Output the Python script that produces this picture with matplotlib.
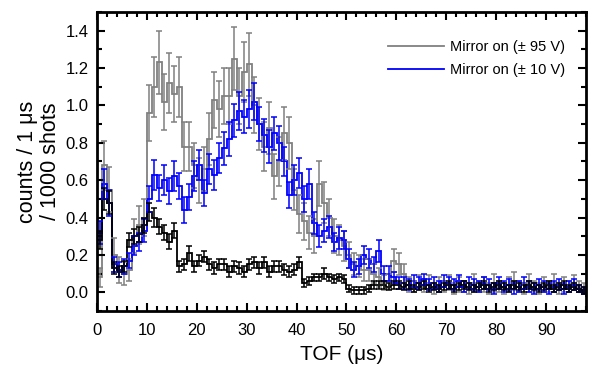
import numpy as np
import matplotlib
matplotlib.use("Agg")
import matplotlib.pyplot as plt
from matplotlib.ticker import MultipleLocator
from matplotlib.lines import Line2D

plt.rcParams['font.family'] = ['Liberation Sans', 'DejaVu Sans']

# Bin width 1 us, bins start at 0
gray_vals = [
    0.08, 0.68, 0.55, 0.20, 0.12, 0.10, 0.12, 0.30, 0.36, 0.40,
    0.96, 1.10, 1.23, 1.02, 1.12, 1.06, 1.10, 0.78, 0.78, 0.68,
    0.60, 0.66, 0.82, 1.03, 0.98, 1.05, 1.05, 1.25, 1.05, 1.18,
    1.22, 1.00, 0.90, 0.78, 0.88, 0.62, 0.70, 0.85, 0.80, 0.55,
    0.42, 0.38, 0.32, 0.30, 0.58, 0.48, 0.40, 0.30, 0.28, 0.25,
    0.20, 0.15, 0.14, 0.12, 0.12, 0.10, 0.08, 0.05, 0.06, 0.17,
    0.15, 0.10, 0.04, 0.03, 0.05, 0.03, 0.05, 0.02, 0.04, 0.03,
    0.05, 0.02, 0.04, 0.03, 0.02, 0.05, 0.03, 0.04, 0.02, 0.05,
    0.03, 0.02, 0.04, 0.06, 0.03, 0.02, 0.05, 0.03, 0.02, 0.04,
    0.03, 0.05, 0.02, 0.04, 0.03, 0.05, 0.03, 0.02, 0.02]
gray_err = [
    0.05, 0.13, 0.12, 0.09, 0.07, 0.06, 0.06, 0.09, 0.10, 0.10,
    0.15, 0.16, 0.17, 0.15, 0.16, 0.15, 0.16, 0.13, 0.13, 0.12,
    0.12, 0.12, 0.14, 0.15, 0.15, 0.15, 0.15, 0.17, 0.15, 0.16,
    0.17, 0.15, 0.14, 0.13, 0.14, 0.12, 0.13, 0.14, 0.14, 0.11,
    0.10, 0.10, 0.09, 0.09, 0.12, 0.11, 0.10, 0.09, 0.08, 0.08,
    0.07, 0.06, 0.06, 0.06, 0.06, 0.05, 0.05, 0.04, 0.04, 0.06,
    0.06, 0.05, 0.04, 0.03, 0.04, 0.03, 0.04, 0.03, 0.04, 0.03,
    0.04, 0.03, 0.04, 0.03, 0.03, 0.05, 0.03, 0.04, 0.03, 0.05,
    0.03, 0.03, 0.04, 0.05, 0.03, 0.03, 0.05, 0.03, 0.03, 0.04,
    0.03, 0.05, 0.03, 0.04, 0.03, 0.04, 0.03, 0.03, 0.03]

blue_vals = [
    0.32, 0.58, 0.48, 0.15, 0.12, 0.14, 0.17, 0.25, 0.27, 0.33,
    0.50, 0.63, 0.56, 0.60, 0.54, 0.62, 0.57, 0.44, 0.51, 0.62,
    0.68, 0.53, 0.66, 0.63, 0.72, 0.77, 0.82, 0.92, 0.97, 0.94,
    0.98, 1.02, 0.90, 0.84, 0.78, 0.85, 0.80, 0.70, 0.52, 0.60,
    0.64, 0.50, 0.58, 0.37, 0.30, 0.33, 0.35, 0.27, 0.29, 0.28,
    0.18, 0.12, 0.14, 0.20, 0.18, 0.15, 0.22, 0.10, 0.10, 0.08,
    0.05, 0.05, 0.04, 0.06, 0.05, 0.07, 0.04, 0.05, 0.03, 0.06,
    0.05, 0.04, 0.06, 0.03, 0.05, 0.04, 0.03, 0.05, 0.04, 0.02,
    0.05, 0.03, 0.04, 0.02, 0.03, 0.05, 0.03, 0.02, 0.04, 0.03,
    0.02, 0.03, 0.04, 0.02, 0.03, 0.04, 0.02, 0.01, 0.01]
blue_err = [
    0.06, 0.08, 0.07, 0.04, 0.04, 0.04, 0.04, 0.05, 0.05, 0.06,
    0.07, 0.08, 0.07, 0.08, 0.07, 0.08, 0.07, 0.07, 0.07, 0.08,
    0.08, 0.07, 0.08, 0.08, 0.08, 0.09, 0.09, 0.09, 0.10, 0.09,
    0.10, 0.10, 0.09, 0.09, 0.09, 0.09, 0.09, 0.08, 0.07, 0.08,
    0.08, 0.07, 0.08, 0.06, 0.06, 0.06, 0.06, 0.05, 0.06, 0.05,
    0.05, 0.04, 0.04, 0.05, 0.05, 0.04, 0.06, 0.04, 0.04, 0.03,
    0.03, 0.03, 0.03, 0.03, 0.03, 0.03, 0.03, 0.03, 0.03, 0.03,
    0.03, 0.03, 0.03, 0.03, 0.03, 0.03, 0.03, 0.03, 0.03, 0.03,
    0.03, 0.03, 0.03, 0.03, 0.03, 0.03, 0.03, 0.03, 0.03, 0.03,
    0.03, 0.03, 0.03, 0.03, 0.03, 0.03, 0.02, 0.02, 0.02]

black_vals = [
    0.28, 0.50, 0.48, 0.13, 0.11, 0.14, 0.28, 0.30, 0.31, 0.36,
    0.43, 0.40, 0.35, 0.32, 0.27, 0.33, 0.14, 0.15, 0.21, 0.14,
    0.17, 0.19, 0.15, 0.13, 0.15, 0.15, 0.11, 0.14, 0.13, 0.11,
    0.15, 0.16, 0.13, 0.16, 0.11, 0.14, 0.14, 0.12, 0.11, 0.12,
    0.16, 0.05, 0.06, 0.08, 0.08, 0.10, 0.08, 0.07, 0.08, 0.07,
    0.02, 0.01, 0.01, 0.01, 0.02, 0.04, 0.04, 0.04, 0.03, 0.04,
    0.04, 0.03, 0.04, 0.02, 0.03, 0.04, 0.02, 0.03, 0.02, 0.03,
    0.04, 0.02, 0.03, 0.04, 0.03, 0.02, 0.03, 0.04, 0.02, 0.03,
    0.04, 0.03, 0.02, 0.04, 0.03, 0.02, 0.04, 0.03, 0.02, 0.03,
    0.04, 0.02, 0.03, 0.04, 0.02, 0.03, 0.02, 0.01, 0.00]
black_err = [
    0.05, 0.06, 0.06, 0.03, 0.03, 0.03, 0.04, 0.04, 0.04, 0.04,
    0.05, 0.05, 0.04, 0.04, 0.04, 0.04, 0.03, 0.03, 0.04, 0.03,
    0.03, 0.03, 0.03, 0.03, 0.03, 0.03, 0.03, 0.03, 0.03, 0.03,
    0.03, 0.03, 0.03, 0.03, 0.03, 0.03, 0.03, 0.03, 0.03, 0.03,
    0.03, 0.02, 0.02, 0.02, 0.02, 0.03, 0.02, 0.02, 0.02, 0.02,
    0.02, 0.02, 0.02, 0.02, 0.02, 0.02, 0.02, 0.02, 0.02, 0.02,
    0.02, 0.02, 0.02, 0.02, 0.02, 0.02, 0.02, 0.02, 0.02, 0.02,
    0.02, 0.02, 0.02, 0.02, 0.02, 0.02, 0.02, 0.02, 0.02, 0.02,
    0.02, 0.02, 0.02, 0.02, 0.02, 0.02, 0.02, 0.02, 0.02, 0.02,
    0.02, 0.02, 0.02, 0.02, 0.02, 0.02, 0.02, 0.02, 0.02]

labels = ["Mirror on (± 95 V)", "Mirror on (± 10 V)"]
x_ticks = [0, 10, 20, 30, 40, 50, 60, 70, 80, 90]
y_ticks = [0.0, 0.2, 0.4, 0.6, 0.8, 1.0, 1.2, 1.4]

fig = plt.figure(figsize=(5.93, 3.67), dpi=100)
ax = fig.add_axes([0.1636, 0.1526, 0.8246, 0.8147])

series = [(gray_vals, gray_err, '#808080'),
          (blue_vals, blue_err, '#0000ff'),
          (black_vals, black_err, '#000000')]
for vals, err, col in series:
    vals = np.asarray(vals)
    edges = np.arange(len(vals) + 1)
    centers = edges[:-1] + 0.5
    ax.stairs(vals, edges, baseline=None, color=col, lw=1.3)
    ax.errorbar(centers, vals, yerr=err, fmt='none', ecolor=col,
                elinewidth=1.1, capsize=1.9, capthick=1.1)

ax.set_xlim(0, 98)
ax.set_ylim(-0.1, 1.5)
ax.set_xticks(x_ticks)
ax.set_yticks(y_ticks)
ax.set_yticklabels([f"{v:.1f}" for v in y_ticks])
ax.xaxis.set_minor_locator(MultipleLocator(2))
ax.yaxis.set_minor_locator(MultipleLocator(0.1))
ax.tick_params(which='both', direction='in', top=True, right=True,
               labelsize=12, width=1.5)
ax.tick_params(axis='x', which='major', pad=9)
ax.tick_params(axis='y', which='major', pad=6)
ax.tick_params(which='major', length=6)
ax.tick_params(which='minor', length=3.5)
for s in ax.spines.values():
    s.set_linewidth(2)

ax.set_xlabel("TOF (μs)", fontsize=15, labelpad=5)
ax.set_ylabel("counts / 1 μs\n/ 1000 shots", fontsize=15.5, labelpad=3,
              linespacing=1.15)

handles = [Line2D([], [], color='#808080', lw=1.3),
           Line2D([], [], color='#0000ff', lw=1.3)]
ax.legend(handles, labels, loc='upper right', bbox_to_anchor=(0.985, 0.95),
          frameon=False, fontsize=10.5, handlelength=3.8, handletextpad=0.45,
          labelspacing=0.6)

fig.savefig("out.png", dpi=100)
